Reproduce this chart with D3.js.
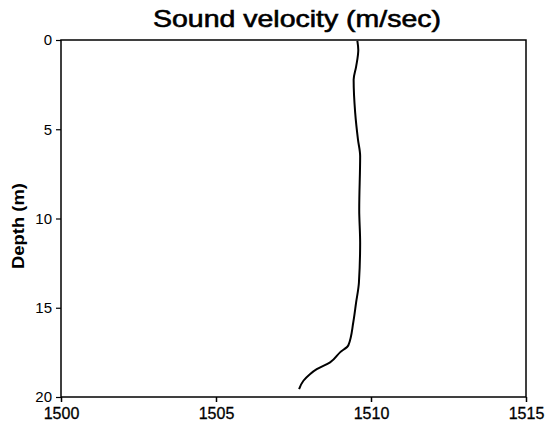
<!DOCTYPE html>
<html><head><meta charset="utf-8">
<script src="https://cdn.jsdelivr.net/npm/d3@7"></script>
<style>body{margin:0;background:#fff;} text{font-family:"Liberation Sans",Arial,sans-serif;fill:#000;}</style>
</head><body><svg id="c" width="546" height="427"></svg>
<script>
const depths = [0.05, 0.56, 1.49, 2.23, 4.08, 5.58, 6.5, 9.5, 11.36, 13.6, 14.7, 15.8, 17.1, 17.5, 18.06, 18.44, 18.72, 19.09, 19.56];
const velocities = [1509.56, 1509.59, 1509.52, 1509.44, 1509.49, 1509.58, 1509.65, 1509.62, 1509.65, 1509.61, 1509.52, 1509.43, 1509.27, 1509.0, 1508.68, 1508.25, 1508.03, 1507.82, 1507.68];
const xTicks = [1500, 1505, 1510, 1515];
const yTicks = [0, 5, 10, 15, 20];
const titleText = "Sound velocity (m/sec)";
const yLabel = "Depth (m)";

const svg = d3.select("#c");
const x = d3.scaleLinear().domain([1500, 1515]).range([61, 526]);
const y = d3.scaleLinear().domain([0, 20]).range([40, 397]);

svg.append("rect").attr("x", 61).attr("y", 40).attr("width", 465).attr("height", 357)
  .attr("fill", "none").attr("stroke", "#000").attr("stroke-width", 1.5);

const xa = svg.append("g").attr("transform", "translate(0,397)")
  .call(d3.axisBottom(x).tickValues(xTicks).tickSize(5).tickPadding(6).tickFormat(d3.format("d")));
xa.select(".domain").remove();
xa.selectAll("line").attr("stroke-width", 1.5);
xa.selectAll("text").attr("font-size", 16).style("font-family", "Liberation Sans, Arial, sans-serif")
  .attr("stroke", "#000").attr("stroke-width", 0.3);

const ya = svg.append("g").attr("transform", "translate(61,0)")
  .call(d3.axisLeft(y).tickValues(yTicks).tickSize(5).tickPadding(4));
ya.select(".domain").remove();
ya.selectAll("line").attr("stroke-width", 1.2);
ya.selectAll("text").attr("font-size", 15).style("font-family", "Liberation Sans, Arial, sans-serif");

const pts = depths.map((d, i) => [velocities[i], d]);
svg.append("path").datum(pts)
  .attr("fill", "none").attr("stroke", "#000").attr("stroke-width", 2)
  .attr("stroke-linejoin", "round")
  .attr("d", d3.line().x(d => x(d[0])).y(d => y(d[1])).curve(d3.curveMonotoneY));

svg.append("text").attr("x", 297).attr("y", 27).attr("text-anchor", "middle")
  .attr("font-size", 24).attr("textLength", 288).attr("lengthAdjust", "spacingAndGlyphs")
  .attr("stroke", "#000").attr("stroke-width", 0.6)
  .text(titleText);

svg.append("text").attr("transform", "translate(24,226) rotate(-90)").attr("text-anchor", "middle")
  .attr("font-size", 16).attr("font-weight", "bold").attr("textLength", 86).attr("lengthAdjust", "spacingAndGlyphs")
  .text(yLabel);
</script></body></html>
